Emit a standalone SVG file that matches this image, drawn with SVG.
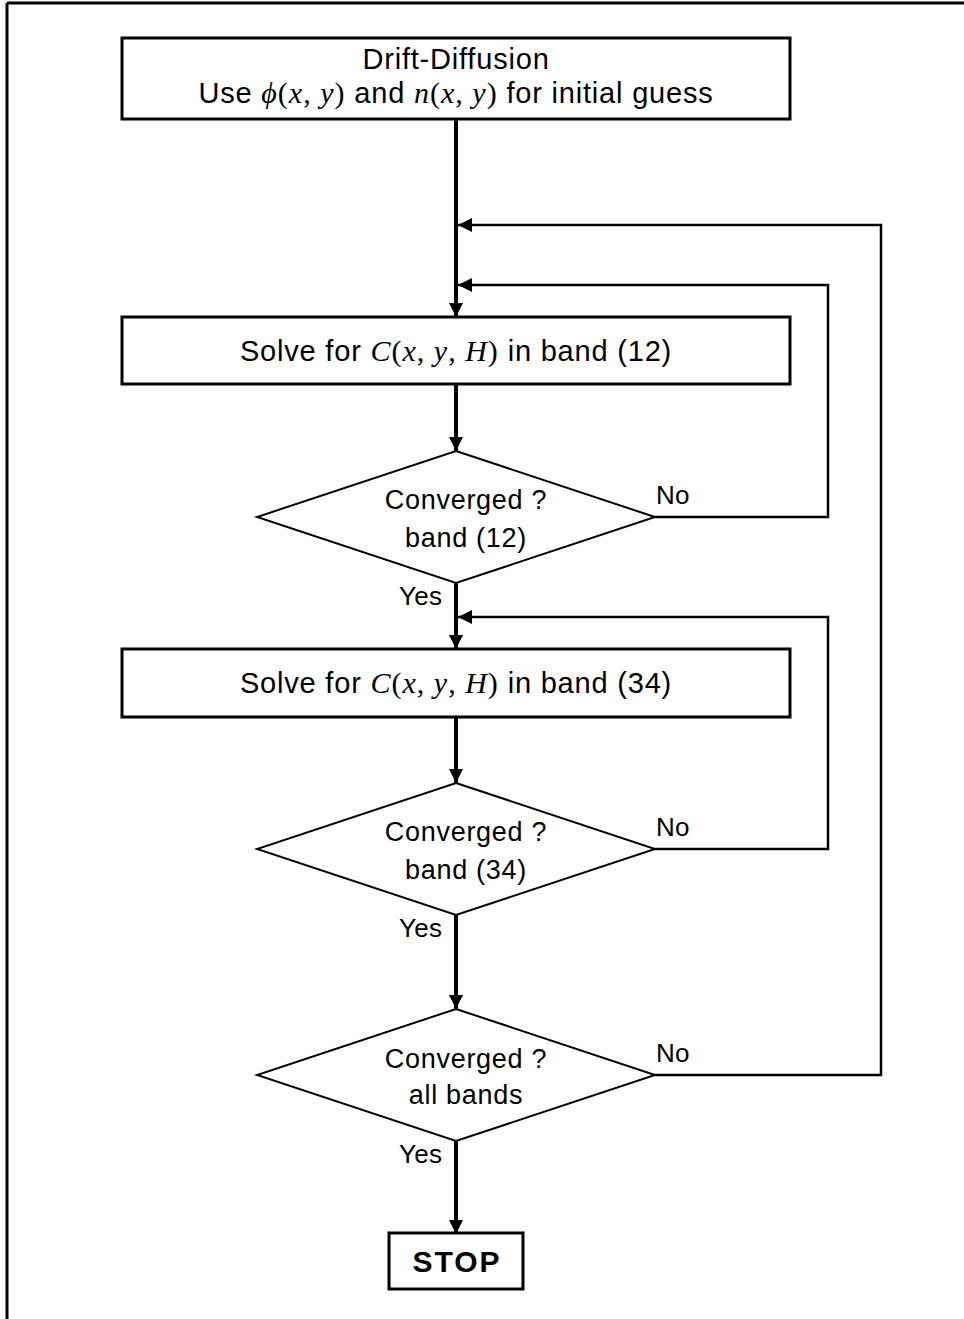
<svg xmlns="http://www.w3.org/2000/svg" width="964" height="1319" viewBox="0 0 964 1319">
  <style>
    .box { fill: #fff; stroke: #000; stroke-width: 3; }
    .dia { fill: #fff; stroke: #000; stroke-width: 2; }
    .t { font-family: "Liberation Sans", "DejaVu Sans", sans-serif; font-size: 29px; letter-spacing: 0.8px; fill: #000; text-anchor: middle; }
    .d { font-family: "Liberation Sans", "DejaVu Sans", sans-serif; font-size: 27px; letter-spacing: 0.7px; fill: #000; text-anchor: middle; }
    .lbl { font-family: "Liberation Sans", "DejaVu Sans", sans-serif; font-size: 26px; letter-spacing: 0.3px; fill: #000; }
    .m { font-family: "Liberation Serif", "DejaVu Serif", serif; font-style: italic; font-size: 30px; letter-spacing: 1px; }
    .r { font-family: "Liberation Serif", "DejaVu Serif", serif; font-size: 30px; letter-spacing: 1px; }
    .main { fill: none; stroke: #000; stroke-width: 4; }
    .loop { fill: none; stroke: #000; stroke-width: 2.5; }
    .stop { font-weight: bold; font-size: 30px; letter-spacing: 2px; }
  </style>
  <defs>
    <marker id="ah" markerUnits="userSpaceOnUse" markerWidth="16" markerHeight="14" refX="14" refY="7" orient="auto">
      <path d="M0,0 L14,7 L0,14 Z" fill="#000"/>
    </marker>
  </defs>

  <!-- page frame -->
  <g id="frame">
    <line x1="7" y1="3" x2="964" y2="3" stroke="#000" stroke-width="3"/>
    <line x1="7" y1="3" x2="7" y2="1319" stroke="#000" stroke-width="3"/>
  </g>

  <!-- connectors -->
  <g id="connectors">
    <line class="main" x1="456" y1="119" x2="456" y2="317" marker-end="url(#ah)"/>
    <line class="main" x1="456" y1="384" x2="456" y2="451" marker-end="url(#ah)"/>
    <line class="main" x1="456" y1="583" x2="456" y2="649" marker-end="url(#ah)"/>
    <line class="main" x1="456" y1="717" x2="456" y2="783" marker-end="url(#ah)"/>
    <line class="main" x1="456" y1="915" x2="456" y2="1009" marker-end="url(#ah)"/>
    <line class="main" x1="456" y1="1141" x2="456" y2="1234" marker-end="url(#ah)"/>
    <polyline class="loop" points="655,517 828,517 828,285 458,285" marker-end="url(#ah)"/>
    <polyline class="loop" points="655,849 828,849 828,617 458,617" marker-end="url(#ah)"/>
    <polyline class="loop" points="655,1075 881,1075 881,225 458,225" marker-end="url(#ah)"/>
  </g>

  <g id="start">
    <rect class="box" x="122" y="38" width="668" height="81"/>
    <text class="t" x="456" y="69">Drift-Diffusion</text>
    <text class="t" x="456" y="103">Use <tspan class="m">ϕ</tspan><tspan class="r">(</tspan><tspan class="m">x</tspan><tspan class="r">, </tspan><tspan class="m">y</tspan><tspan class="r">)</tspan> and <tspan class="m">n</tspan><tspan class="r">(</tspan><tspan class="m">x</tspan><tspan class="r">, </tspan><tspan class="m">y</tspan><tspan class="r">)</tspan> for initial guess</text>
  </g>

  <g id="solve12">
    <rect class="box" x="122" y="317" width="668" height="67"/>
    <text class="t" x="456" y="361">Solve for <tspan class="m">C</tspan><tspan class="r">(</tspan><tspan class="m">x</tspan><tspan class="r">, </tspan><tspan class="m">y</tspan><tspan class="r">, </tspan><tspan class="m">H</tspan><tspan class="r">)</tspan> in band (12)</text>
  </g>

  <g id="check12">
    <polygon class="dia" points="456,451 655,517 456,583 257,517"/>
    <text class="d" x="466" y="509">Converged ?</text>
    <text class="d" x="466" y="547">band (12)</text>
    <text class="lbl" x="656" y="504">No</text>
    <text class="lbl" x="399" y="605">Yes</text>
  </g>

  <g id="solve34">
    <rect class="box" x="122" y="649" width="668" height="68"/>
    <text class="t" x="456" y="693">Solve for <tspan class="m">C</tspan><tspan class="r">(</tspan><tspan class="m">x</tspan><tspan class="r">, </tspan><tspan class="m">y</tspan><tspan class="r">, </tspan><tspan class="m">H</tspan><tspan class="r">)</tspan> in band (34)</text>
  </g>

  <g id="check34">
    <polygon class="dia" points="456,783 655,849 456,915 257,849"/>
    <text class="d" x="466" y="841">Converged ?</text>
    <text class="d" x="466" y="879">band (34)</text>
    <text class="lbl" x="656" y="836">No</text>
    <text class="lbl" x="399" y="937">Yes</text>
  </g>

  <g id="checkall">
    <polygon class="dia" points="456,1009 655,1075 456,1141 257,1075"/>
    <text class="d" x="466" y="1068">Converged ?</text>
    <text class="d" x="466" y="1104">all bands</text>
    <text class="lbl" x="656" y="1062">No</text>
    <text class="lbl" x="399" y="1163">Yes</text>
  </g>

  <g id="stop">
    <rect class="box" x="389" y="1233" width="134" height="56"/>
    <text class="t stop" x="457" y="1272">STOP</text>
  </g>
</svg>
